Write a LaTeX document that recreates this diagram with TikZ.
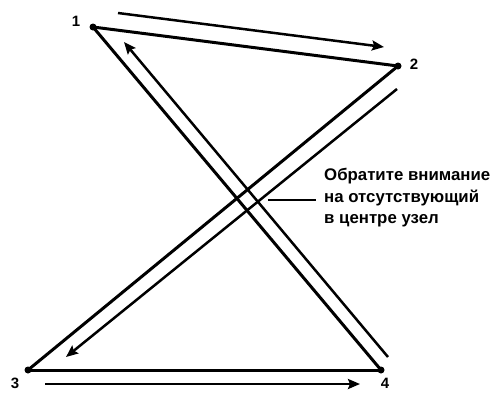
\documentclass[tikz,border=0pt]{standalone}
\usepackage{fontspec}
\setmainfont{Liberation Sans}
\usetikzlibrary{arrows.meta, positioning, calc}

\begin{document}
\begin{tikzpicture}[x=1pt, y=-1pt,
  edge/.style={line width=3pt, line cap=round},
  flow/.style={line width=2.5pt, -{Stealth[length=12pt, width=10pt, inset=2pt]}},
  dot/.style={circle, fill, inner sep=0pt, minimum size=7pt},
  num/.style={font=\fontsize{15}{18}\selectfont\bfseries, inner sep=0pt}]
  \useasboundingbox (0,0) rectangle (497,392);

  \node (n1) [dot] at (93,27) {};
  \node (n2) [dot] at (398,66) {};
  \node (n3) [dot] at (28,370) {};
  \node (n4) [dot] at (381,370) {};

  \node (l1) [num] at (76,21) {1};
  \node (l2) [num] at (414,64) {2};
  \node (l3) [num] at (15,383) {3};
  \node (l4) [num] at (385,383) {4};

  \draw[edge] (n1.center) -- (n2.center);
  \draw[edge] (n2.center) -- (n3.center);
  \draw[edge] (n3.center) -- (n4.center);
  \draw[edge] (n4.center) -- (n1.center);

  \coordinate (a12s) at (118,13);
  \coordinate (a12e) at (384,47);
  \coordinate (a23s) at (397,89);
  \coordinate (a23e) at (66,357);
  \coordinate (a41s) at (388,357);
  \coordinate (a41e) at (124,42);
  \coordinate (a34s) at (45,384);
  \coordinate (a34e) at (360,384);

  \draw[flow] (a12s) -- (a12e);
  \draw[flow] (a23s) -- (a23e);
  \draw[flow] (a41s) -- (a41e);
  \draw[flow] (a34s) -- (a34e);

  \node (note) [anchor=west, align=left, inner sep=0pt,
    font=\fontsize{16.8}{21.5}\selectfont\bfseries] at (324,198)
    {Обратите внимание\\на отсутствующий\\в центре узел};
  \coordinate (tick) at (268,200);
  \draw[line width=1.8pt] (tick) -- ($(note.west)+(-8,2)$);
\end{tikzpicture}
\end{document}
